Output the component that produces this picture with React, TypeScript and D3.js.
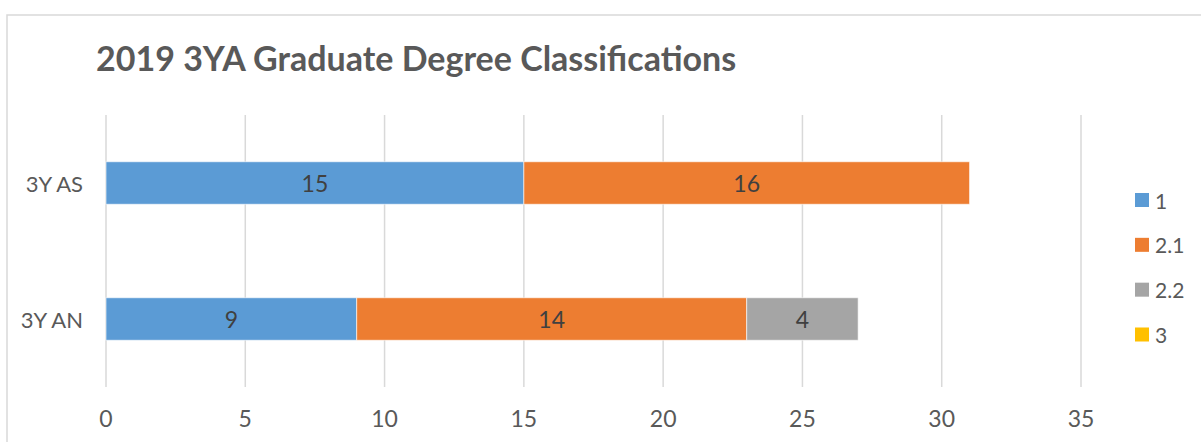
import React from "react";
import * as d3 from "d3";

// Degree classification counts per cohort
const categories = ["3Y AS", "3Y AN"];
const seriesNames = ["1", "2.1", "2.2", "3"];
const firstClass = [15, 9];
const upperSecond = [16, 14];
const lowerSecond = [0, 4];
const thirdClass = [0, 0];
const xTicks = [0, 5, 10, 15, 20, 25, 30, 35];
const seriesColors = ["#5B9BD5", "#ED7D31", "#A5A5A5", "#FFC000"];

const W = 1201;
const H = 442;
const FONT = "Lato, 'Open Sans', sans-serif";

export default function App() {
  const seriesValues = [firstClass, upperSecond, lowerSecond, thirdClass];
  const rows = categories.map((c, i) => {
    const r: Record<string, any> = { category: c };
    seriesNames.forEach((s, k) => (r[s] = seriesValues[k][i]));
    return r;
  });
  const stacked = d3.stack<any>().keys(seriesNames)(rows);

  const x = d3.scaleLinear().domain([0, 35]).range([106, 1081]);
  const y = d3
    .scaleBand<string>()
    .domain(categories)
    .range([115, 387])
    .paddingInner(0.6875)
    .paddingOuter(0.34375);

  const legendY = d3.scalePoint<string>().domain(seriesNames).range([200, 334.5]);

  return (
    <svg
      width={W}
      height={H}
      style={{ position: "absolute", left: 0, top: 0, background: "#fff" }}
      fontFamily={FONT}
    >
      <rect x={7} y={15} width={1300} height={500} fill="#fff" stroke="#D9D9D9" strokeWidth={1.5} />
      <text x={96} y={71} fontSize={34} fontWeight={700} fill="#595959">
        2019 3YA Graduate Degree Classifications
      </text>

      {xTicks.map((t) => (
        <g key={t}>
          <line x1={x(t)} x2={x(t)} y1={115} y2={387} stroke="#D9D9D9" strokeWidth={1.5} />
          <text x={x(t)} y={427} textAnchor="middle" fontSize={23} fill="#595959">
            {t}
          </text>
        </g>
      ))}

      {categories.map((c) => (
        <text
          key={c}
          x={83}
          y={(y(c) as number) + y.bandwidth() / 2}
          textAnchor="end"
          dominantBaseline="central"
          fontSize={22}
          fill="#595959"
        >
          {c}
        </text>
      ))}

      {stacked.map((layer, k) =>
        layer.map((d) => {
          const v = d[1] - d[0];
          if (v <= 0) return null;
          const cat = d.data.category as string;
          const y0 = y(cat) as number;
          return (
            <g key={seriesNames[k] + cat}>
              <rect
                x={x(d[0])}
                y={y0}
                width={x(d[1]) - x(d[0])}
                height={y.bandwidth()}
                fill={seriesColors[k]}
                stroke="#fff"
                strokeOpacity={0.6}
                strokeWidth={1}
              />
              <text
                x={(x(d[0]) + x(d[1])) / 2}
                y={y0 + y.bandwidth() / 2}
                textAnchor="middle"
                dominantBaseline="central"
                fontSize={23}
                fill="#404040"
              >
                {v}
              </text>
            </g>
          );
        })
      )}

      {seriesNames.map((s, k) => (
        <g key={s}>
          <rect x={1135} y={(legendY(s) as number) - 7} width={14} height={14} fill={seriesColors[k]} />
          <text
            x={1155}
            y={legendY(s) as number}
            dominantBaseline="central"
            fontSize={21}
            fill="#595959"
          >
            {s}
          </text>
        </g>
      ))}
    </svg>
  );
}
